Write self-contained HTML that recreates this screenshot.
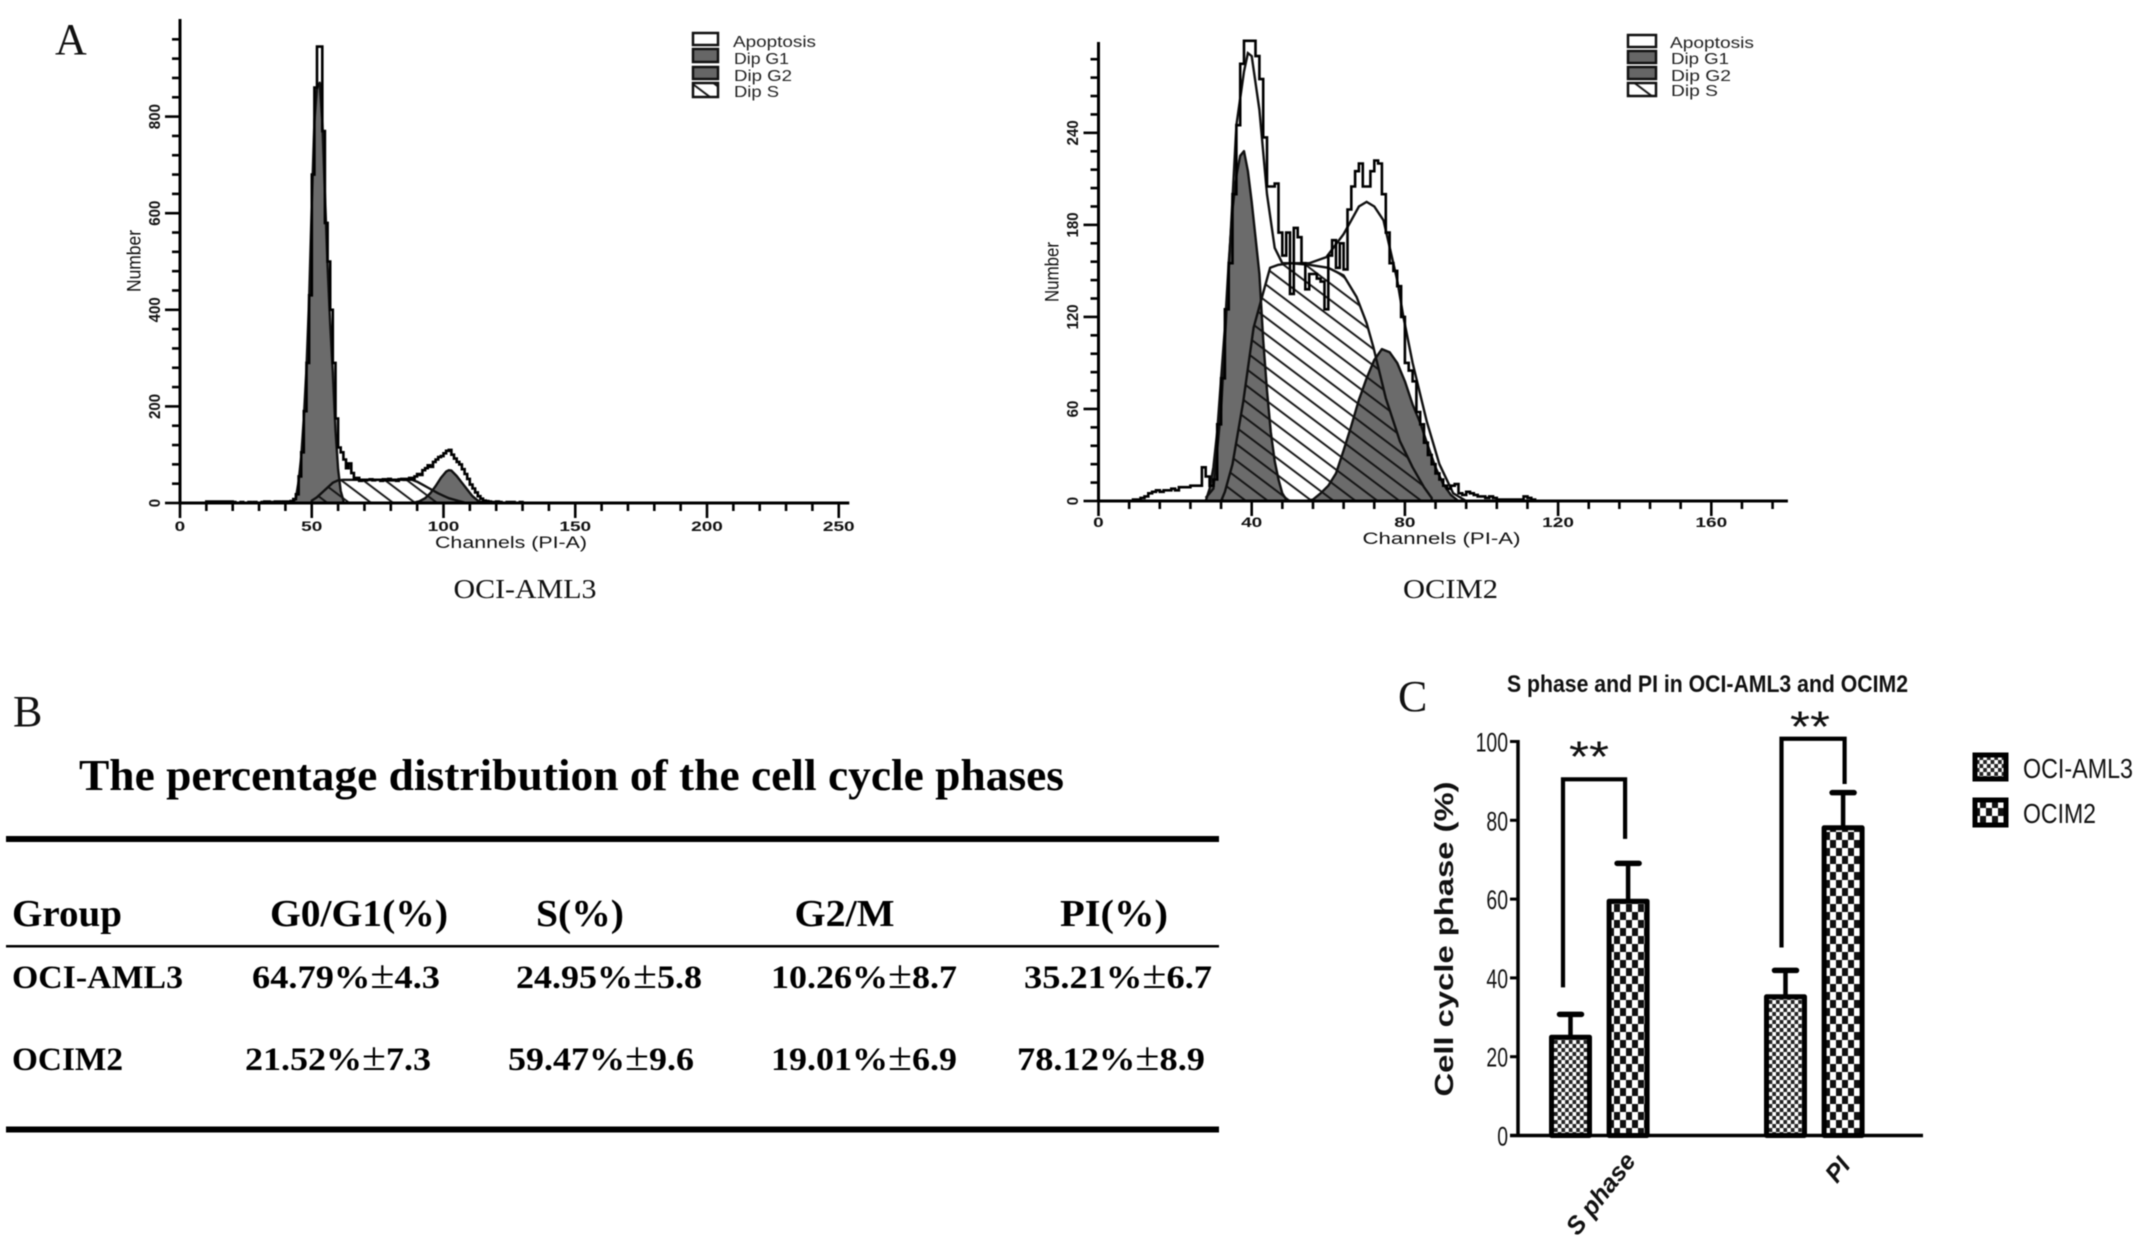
<!DOCTYPE html>
<html lang="en">
<head>
<meta charset="utf-8">
<title>Cell cycle analysis of OCI-AML3 and OCIM2</title>
<style>
html,body{margin:0;padding:0;background:#fff;width:2150px;height:1260px;overflow:hidden}
svg{display:block;filter:blur(0.55px)}
text{fill:#111}
.sans{font-family:"Liberation Sans",Arial,sans-serif}
.serif{font-family:"Liberation Serif","Times New Roman",serif}
.tb{font-family:"Liberation Serif","Times New Roman",serif;font-weight:bold;font-size:33px;fill:#000}
.tb tspan{font-size:40px;font-weight:normal}
.th{font-family:"Liberation Serif","Times New Roman",serif;font-weight:bold;font-size:38px;fill:#000}
.lg{font-family:"Liberation Sans",Arial,sans-serif;font-size:16px;fill:#222}
</style>
</head>
<body>
<svg id="figure" xmlns="http://www.w3.org/2000/svg" width="2150" height="1260" viewBox="0 0 2150 1260">
  <defs>
    <pattern id="hatch" patternUnits="userSpaceOnUse" width="13.2" height="13.2" patternTransform="rotate(37)">
      <line x1="0" y1="6.6" x2="13.2" y2="6.6" stroke="#111" stroke-width="1.9"/>
    </pattern>
    <pattern id="fine-check" patternUnits="userSpaceOnUse" width="7.4" height="8">
      <rect width="7.4" height="8" fill="#fff"/>
      <rect width="3.7" height="4" fill="#222"/>
      <rect x="3.7" y="4" width="3.7" height="4" fill="#222"/>
    </pattern>
    <pattern id="coarse-check" patternUnits="userSpaceOnUse" width="12" height="16">
      <rect width="12" height="16" fill="#fff"/>
      <rect width="6" height="8" fill="#111"/>
      <rect x="6" y="8" width="6" height="8" fill="#111"/>
    </pattern>
  </defs>

  <rect width="2150" height="1260" fill="#fff"/>

  <text class="serif" x="55" y="54" font-size="44">A</text>
  <text class="serif" x="13" y="726" font-size="44">B</text>
  <text class="serif" x="1398" y="711" font-size="44">C</text>

  <g id="hist-a">
    <text class="sans" transform="rotate(-90 140.5 261)" x="140.5" y="261" text-anchor="middle" font-size="19" textLength="62" lengthAdjust="spacingAndGlyphs">Number</text>
    <text class="sans" x="435" y="548" font-size="17" textLength="152" lengthAdjust="spacingAndGlyphs">Channels (PI-A)</text>
    <text class="serif" x="453.5" y="598" font-size="27" textLength="143" lengthAdjust="spacingAndGlyphs">OCI-AML3</text>
    <g>
      <rect x="693" y="33" width="25" height="12" fill="#fff" stroke="#111" stroke-width="2.5"/>
      <rect x="693" y="49" width="25" height="13" fill="#666" stroke="#111" stroke-width="2.5"/>
      <rect x="693" y="67" width="25" height="12" fill="#666" stroke="#111" stroke-width="2.5"/>
      <rect x="693" y="83" width="25" height="14" fill="url(#hatch)" stroke="#111" stroke-width="2.5"/>
      <text class="lg" x="733" y="47" textLength="83" lengthAdjust="spacingAndGlyphs">Apoptosis</text>
      <text class="lg" x="734" y="64" textLength="55" lengthAdjust="spacingAndGlyphs">Dip G1</text>
      <text class="lg" x="734" y="81" textLength="58" lengthAdjust="spacingAndGlyphs">Dip G2</text>
      <text class="lg" x="734" y="97" textLength="45" lengthAdjust="spacingAndGlyphs">Dip S</text>
    </g>
  </g>

  <g id="hist-b">
    <text class="sans" transform="rotate(-90 1058.5 272)" x="1058.5" y="272" text-anchor="middle" font-size="19" textLength="60" lengthAdjust="spacingAndGlyphs">Number</text>
    <text class="sans" x="1362.5" y="544" font-size="17" textLength="158" lengthAdjust="spacingAndGlyphs">Channels (PI-A)</text>
    <text class="serif" x="1403" y="598" font-size="27" textLength="95" lengthAdjust="spacingAndGlyphs">OCIM2</text>
    <g>
      <rect x="1628" y="35" width="28" height="12" fill="#fff" stroke="#111" stroke-width="2.5"/>
      <rect x="1628" y="51" width="28" height="12" fill="#666" stroke="#111" stroke-width="2.5"/>
      <rect x="1628" y="67" width="28" height="12" fill="#666" stroke="#111" stroke-width="2.5"/>
      <rect x="1628" y="83" width="28" height="13" fill="url(#hatch)" stroke="#111" stroke-width="2.5"/>
      <text class="lg" x="1670" y="48" textLength="84" lengthAdjust="spacingAndGlyphs">Apoptosis</text>
      <text class="lg" x="1671" y="64" textLength="58" lengthAdjust="spacingAndGlyphs">Dip G1</text>
      <text class="lg" x="1671" y="81" textLength="60" lengthAdjust="spacingAndGlyphs">Dip G2</text>
      <text class="lg" x="1671" y="96" textLength="47" lengthAdjust="spacingAndGlyphs">Dip S</text>
    </g>
  </g>

  <g>
    <text class="serif" x="79" y="790" font-size="44" font-weight="bold" textLength="985" lengthAdjust="spacingAndGlyphs" style="fill:#000">The percentage distribution of the cell cycle phases</text>
    <rect x="6" y="836" width="1213" height="6" fill="#000"/>
    <rect x="6" y="945" width="1213" height="2.5" fill="#000"/>
    <rect x="6" y="1126.5" width="1213" height="6" fill="#000"/>

    <text class="th" x="12" y="926" textLength="110" lengthAdjust="spacingAndGlyphs">Group</text>
    <text class="th" x="270" y="926" textLength="178" lengthAdjust="spacingAndGlyphs">G0/G1(%)</text>
    <text class="th" x="536" y="926" textLength="88" lengthAdjust="spacingAndGlyphs">S(%)</text>
    <text class="th" x="794.5" y="926" textLength="100" lengthAdjust="spacingAndGlyphs">G2/M</text>
    <text class="th" x="1060" y="926" textLength="108" lengthAdjust="spacingAndGlyphs">PI(%)</text>

    <text class="tb" x="12" y="988" textLength="171" lengthAdjust="spacingAndGlyphs">OCI-AML3</text>
    <text class="tb" x="252" y="988" textLength="188" lengthAdjust="spacingAndGlyphs">64.79%<tspan>±</tspan>4.3</text>
    <text class="tb" x="516" y="988" textLength="186" lengthAdjust="spacingAndGlyphs">24.95%<tspan>±</tspan>5.8</text>
    <text class="tb" x="771" y="988" textLength="186" lengthAdjust="spacingAndGlyphs">10.26%<tspan>±</tspan>8.7</text>
    <text class="tb" x="1024" y="988" textLength="188" lengthAdjust="spacingAndGlyphs">35.21%<tspan>±</tspan>6.7</text>

    <text class="tb" x="12" y="1070" textLength="111" lengthAdjust="spacingAndGlyphs">OCIM2</text>
    <text class="tb" x="245" y="1070" textLength="186" lengthAdjust="spacingAndGlyphs">21.52%<tspan>±</tspan>7.3</text>
    <text class="tb" x="508" y="1070" textLength="186" lengthAdjust="spacingAndGlyphs">59.47%<tspan>±</tspan>9.6</text>
    <text class="tb" x="771" y="1070" textLength="186" lengthAdjust="spacingAndGlyphs">19.01%<tspan>±</tspan>6.9</text>
    <text class="tb" x="1017" y="1070" textLength="188" lengthAdjust="spacingAndGlyphs">78.12%<tspan>±</tspan>8.9</text>
  </g>

  <g id="bar-chart">
    <text class="sans" x="1507" y="692" font-size="24" font-weight="bold" textLength="401" lengthAdjust="spacingAndGlyphs">S phase and PI in OCI-AML3 and OCIM2</text>
    <text class="sans" transform="rotate(-90 1453 939)" x="1453" y="939" text-anchor="middle" font-size="26" font-weight="bold" textLength="315" lengthAdjust="spacingAndGlyphs">Cell cycle phase (%)</text>
    <g>
      <rect x="1975" y="755" width="31" height="24" fill="url(#fine-check)" stroke="#000" stroke-width="5"/>
      <rect x="1975" y="800" width="31" height="25" fill="url(#coarse-check)" stroke="#000" stroke-width="5"/>
      <text class="sans" x="2023" y="778" font-size="28" textLength="110" lengthAdjust="spacingAndGlyphs">OCI-AML3</text>
      <text class="sans" x="2023" y="823" font-size="28" textLength="73" lengthAdjust="spacingAndGlyphs">OCIM2</text>
    </g>
  </g>
</svg>

<script>
/* ---------- Panel A, OCI-AML3 histogram values ---------- */
const a1XLabels = [0, 50, 100, 150, 200, 250];
const a1YLabels = [0, 200, 400, 600, 800];
const a1TotalChannels = [10,11,12,13,14,15,16,17,18,19,20,21,22,23,24,25,26,27,28,29,30,31,32,33,34,35,36,37,38,39,40,41,42,43,44,45,46,47,48,49,50,51,52,53,54,55,56,57,58,59,60,61,62,63,64,65,66,67,68,69,70,71,72,73,74,75,76,77,78,79,80,81,82,83,84,85,86,87,88,89,90,91,92,93,94,95,96,97,98,99,100,101,102,103,104,105,106,107,108,109,110,111,112,113,114,115,116,117,118,119,120,121,122,123,124,125,126,127,128,129,130];
const a1TotalCounts = [3,3,3,3,3,3,3,3,3,3,2,0,0,2,0,0,2,0,2,0,0,2,3,3,0,2,3,3,2,3,2,3,4,8,18,55,105,190,290,430,680,860,945,945,770,580,500,400,290,175,115,105,90,72,82,62,50,52,46,48,47,48,49,47,48,48,46,49,47,50,47,48,46,49,50,48,50,52,50,55,60,58,68,72,78,75,85,90,95,97,103,108,110,100,92,85,80,70,60,50,38,30,22,14,9,5,4,3,2,2,3,2,0,0,2,0,2,0,0,2,0];
const a1G1Channels = [43,44,45,46,47,48,49,50,51,52,53,54,55,56,57,58,59,60,61,62];
const a1G1Counts = [2,10,45,95,175,280,420,620,790,860,870,790,640,490,370,270,150,70,25,5];
const a1G2Channels = [89,91,93,95,97,99,101,102,103,105,107,109,111,113,115];
const a1G2Counts = [1,4,10,20,35,52,65,68,67,56,42,28,14,5,1];
const a1SChannels = [50,52,54,56,58,60,62,70,80,88,90,92,94,96,98,100,102,104,106,108];
const a1SCounts = [5,12,22,32,42,47,48,48,48,48,44,38,32,26,20,15,10,7,4,1];

/* ---------- Panel A, OCIM2 histogram values ---------- */
const a2XLabels = [0, 40, 80, 120, 160];
const a2YLabels = [0, 60, 120, 180, 240];
const a2TotalChannels = [8,9,10,11,12,13,14,15,16,17,18,19,20,21,22,23,24,25,26,27,28,29,30,31,32,33,34,35,36,37,38,39,40,41,42,43,44,45,46,47,48,49,50,51,52,53,54,55,56,57,58,59,60,61,62,63,64,65,66,67,68,69,70,71,72,73,74,75,76,77,78,79,80,81,82,83,84,85,86,87,88,89,90,91,92,93,94,95,96,97,98,99,100,101,102,103,104,105,106,107,108,109,110,111,112,113];
const a2TotalCounts = [0,1,1,2,3,5,6,7,6,7,7,8,7,9,9,9,10,10,10,22,16,10,14,50,80,125,155,200,245,285,300,300,300,290,275,237,205,205,207,175,160,175,135,178,172,155,138,148,148,145,143,125,160,170,152,168,151,190,205,215,220,205,205,215,222,220,200,175,155,150,140,120,90,85,78,58,50,38,30,24,18,14,10,8,10,11,5,4,6,5,4,3,3,2,3,2,1,1,1,1,1,1,1,3,2,1];
const a2FitChannels = [28,30,32,34,36,38,39,40,42,44,46,48,51,55,59.5,64,66,68,70,72,74.4,78,79.6,82,85.7,89,92.6,96];
const a2FitCounts = [2,8,60,150,245,280,292,290,255,200,165,155,155,155,159,174,183,192,195,192,183,144,120,90,52,24,5,0];
const a2G1Channels = [28,29,30,31,32,33,34,35,36,37,38,39,40,41,42,43,44,45,46,47,48,49];
const a2G1Counts = [0,8,22,45,80,113,155,190,212,225,228,215,195,172,148,105,72,45,26,14,5,1];
const a2G2Channels = [54,56,58,60,62,64,66,68,70,72,74,76,78,80,82,84,86,88,90,92,94];
const a2G2Counts = [0,1,5,10,18,33,49,66,80,92,99,97,90,78,63,51,36,22,11,4,0];
const a2SChannels = [32,33,35,37.8,40.5,42.7,44.8,47,50,55,60,64,67.4,70,71.8,75,78.7,82,85,87];
const a2SCounts = [0,6,24,65,113,133,152,154,155,154,152,147,133,116,100,67,39,22,9,2];

/* ---------- Panel C, bar chart values ---------- */
const barCategories = ["S phase", "PI"];
const barYLabels = [0, 20, 40, 60, 80, 100];
const amlValues = [24.95, 35.21];
const amlErrors = [5.8, 6.7];
const ocimValues = [59.47, 78.12];
const ocimErrors = [9.6, 8.9];
const bracketTops = [90.4, 100.7];
const bracketLeftEnds = [37.6, 47.7];
const bracketRightEnds = [75.3, 89.2];
const bracketStars = ["**", "**"];

const NS = "http://www.w3.org/2000/svg";
function make(tag, attrs, parent) {
  const el = document.createElementNS(NS, tag);
  for (const k in attrs) el.setAttribute(k, attrs[k]);
  parent.appendChild(el);
  return el;
}

/* axis functions */
const a1X = c => 180 + 2.635 * c;
const a1Y = v => 503 - 0.483 * v;
const a2X = c => 1098.5 + 3.83 * c;
const a2Y = v => 501 - 1.534 * v;
const barY = v => 1135.5 - 3.94 * v;
const barGroupX = i => 1599.3 + 215 * i;

function areaPath(channels, counts, xf, yf) {
  let d = "M" + xf(channels[0]) + " " + yf(0);
  channels.forEach((c, i) => { d += " L" + xf(c).toFixed(1) + " " + yf(counts[i]).toFixed(1); });
  d += " L" + xf(channels[channels.length - 1]) + " " + yf(0) + " Z";
  return d;
}
function stepPath(channels, counts, xf, yf) {
  let d = "M" + xf(channels[0]).toFixed(1) + " " + yf(0).toFixed(1);
  channels.forEach((c, i) => {
    d += " L" + xf(c).toFixed(1) + " " + yf(counts[i]).toFixed(1);
    d += " L" + xf(c + 1).toFixed(1) + " " + yf(counts[i]).toFixed(1);
  });
  d += " L" + xf(channels[channels.length - 1] + 1).toFixed(1) + " " + yf(0).toFixed(1);
  return d;
}
function linePath(channels, counts, xf, yf) {
  return channels.map((c, i) => (i ? "L" : "M") + xf(c).toFixed(1) + " " + yf(counts[i]).toFixed(1)).join(" ");
}

function drawHistAxes(group, cfg) {
  const xf = cfg.x, yf = cfg.y;
  const yAxis = make("line", {x1: xf(0), x2: xf(0), y1: cfg.axisTop, y2: yf(0) + 1, stroke: "#000", "stroke-width": 3}, group);
  
  
  const xAxis = make("line", {x1: xf(0) - 1, x2: xf(cfg.xMax), y1: yf(0), y2: yf(0), stroke: "#000", "stroke-width": 3}, group);
  
  
  for (let c = 0; c <= cfg.xMax; c += cfg.xMinor) {
    const major = cfg.xLabels.includes(c);
    const t = make("line", {x1: xf(c), x2: xf(c), y1: yf(0), y2: yf(0) + (major ? 15 : 8), stroke: "#000", "stroke-width": 2.6}, group);
    
    
  }
  for (let v = 0; v <= cfg.yMax; v += cfg.yMinor) {
    const major = cfg.yLabels.includes(v);
    const t = make("line", {x1: xf(0) - (major ? 15 : 8), x2: xf(0), y1: yf(v), y2: yf(v), stroke: "#000", "stroke-width": 2.6}, group);
    
    
  }
  cfg.xLabels.forEach(c => {
    const s = String(c);
    const t = make("text", {x: xf(c), y: cfg.xLabelY, "text-anchor": "middle", "font-size": 14, "font-weight": "bold", fill: "#333", class: "sans", textLength: s.length * 10.6, lengthAdjust: "spacingAndGlyphs"}, group);
    
    
    t.textContent = s;
  });
  cfg.yLabels.forEach(v => {
    const s = String(v);
    const t = make("text", {x: cfg.yLabelX, y: yf(v), "text-anchor": "middle", "font-size": 16, "font-weight": "bold", class: "sans", textLength: s.length * 8.4, lengthAdjust: "spacingAndGlyphs", transform: "rotate(-90 " + cfg.yLabelX + " " + yf(v) + ")"}, group);
    
    
    t.textContent = s;
  });
}

function drawPhase(group, channels, counts, xf, yf, fill, name) {
  const p = make("path", {d: areaPath(channels, counts, xf, yf), fill: fill, stroke: "#111", "stroke-width": 2.4, "stroke-linejoin": "round"}, group);
  
  
}

/* Panel A: OCI-AML3 */
(function () {
  const g = document.getElementById("hist-a");
  drawPhase(g, a1G1Channels, a1G1Counts, a1X, a1Y, "#6b6b6b", "dip-g1-peak");
  drawPhase(g, a1G2Channels, a1G2Counts, a1X, a1Y, "#6b6b6b", "dip-g2-peak");
  drawPhase(g, a1SChannels, a1SCounts, a1X, a1Y, "url(#hatch)", "dip-s-region");
  const total = make("path", {d: stepPath(a1TotalChannels, a1TotalCounts, a1X, a1Y), fill: "none", stroke: "#000", "stroke-width": 2.6, "stroke-linejoin": "miter"}, g);
  
  
  drawHistAxes(g, {x: a1X, y: a1Y, axisTop: 19, xMax: 254, xMinor: 10, yMax: 960, yMinor: 40,
    xLabels: a1XLabels, yLabels: a1YLabels, xLabelY: 531, yLabelX: 160});
})();

/* Panel A: OCIM2 */
(function () {
  const g = document.getElementById("hist-b");
  drawPhase(g, a2G1Channels, a2G1Counts, a2X, a2Y, "#6b6b6b", "dip-g1-peak");
  drawPhase(g, a2G2Channels, a2G2Counts, a2X, a2Y, "#6b6b6b", "dip-g2-peak");
  drawPhase(g, a2SChannels, a2SCounts, a2X, a2Y, "url(#hatch)", "dip-s-region");
  const fit = make("path", {d: linePath(a2FitChannels, a2FitCounts, a2X, a2Y), fill: "none", stroke: "#111", "stroke-width": 2.4}, g);
  
  
  const total = make("path", {d: stepPath(a2TotalChannels, a2TotalCounts, a2X, a2Y), fill: "none", stroke: "#000", "stroke-width": 2.6, "stroke-linejoin": "miter"}, g);
  
  
  drawHistAxes(g, {x: a2X, y: a2Y, axisTop: 42, xMax: 180, xMinor: 8, yMax: 288, yMinor: 12,
    xLabels: a2XLabels, yLabels: a2YLabels, xLabelY: 527, yLabelX: 1078});
})();

/* Panel C: bars */
(function () {
  const g = document.getElementById("bar-chart");
  const BAR_W = 38, OFFSET = 28.8, CAP = 11;
  function drawBar(cx, value, err, fill, name) {
    const stem = make("line", {x1: cx, x2: cx, y1: barY(value), y2: barY(value + err), stroke: "#000", "stroke-width": 4.5}, g);
    
    
    const cap = make("line", {x1: cx - CAP, x2: cx + CAP, y1: barY(value + err), y2: barY(value + err), stroke: "#000", "stroke-width": 5.5, "stroke-linecap": "round"}, g);
    
    
    const rect = make("rect", {x: cx - BAR_W / 2, y: barY(value), width: BAR_W, height: barY(0) - barY(value), fill: fill, stroke: "#000", "stroke-width": 5, "stroke-linejoin": "round"}, g);
    
    
  }
  barCategories.forEach((cat, i) => {
    const cx = barGroupX(i);
    const left = cx - OFFSET, right = cx + OFFSET;
    drawBar(left, amlValues[i], amlErrors[i], "url(#fine-check)", "bar-oci-aml3-" + i);
    drawBar(right, ocimValues[i], ocimErrors[i], "url(#coarse-check)", "bar-ocim2-" + i);
    const bx1 = left - (i === 0 ? 7.5 : 4), bx2 = right + (i === 0 ? -3 : 1.5);
    const br = make("path", {d: "M" + bx1 + " " + barY(bracketLeftEnds[i]) + " V" + barY(bracketTops[i]) + " H" + bx2 + " V" + barY(bracketRightEnds[i]), fill: "none", stroke: "#000", "stroke-width": 4.2}, g);
    
    
    const sx = (bx1 + bx2) / 2 - (i === 0 ? 5 : 3);
    const sy = barY(bracketTops[i]) - (i === 0 ? 8 : -3);
    const st = make("text", {x: sx, y: sy, "text-anchor": "middle", "font-size": 44, class: "sans", textLength: 40, lengthAdjust: "spacingAndGlyphs"}, g);
    
    
    st.textContent = bracketStars[i];
  });

  const yAxis = make("line", {x1: 1518, x2: 1518, y1: barY(100) - 1.5, y2: barY(0), stroke: "#000", "stroke-width": 3.5}, g);
  
  
  const xAxis = make("line", {x1: 1510, x2: 1923, y1: barY(0), y2: barY(0), stroke: "#000", "stroke-width": 3.5}, g);
  
  
  barYLabels.forEach(v => {
    const s = String(v);
    const t = make("line", {x1: 1510, x2: 1518, y1: barY(v), y2: barY(v), stroke: "#000", "stroke-width": 3}, g);
    
    
    const l = make("text", {x: 1508, y: barY(v) + 10, "text-anchor": "end", "font-size": 27, class: "sans", textLength: s.length * 10.8, lengthAdjust: "spacingAndGlyphs"}, g);
    
    
    l.textContent = s;
  });
  barCategories.forEach((cat, i) => {
    const cx = barGroupX(i) + (i === 0 ? 8 : 30);
    const cy = i === 0 ? 1199 : 1175;
    const l = make("text", {x: cx, y: cy, "text-anchor": "middle", "font-size": 25, "font-style": "italic", "font-weight": "bold", class: "sans", transform: "rotate(-52 " + cx + " " + cy + ")"}, g);
    
    
    l.textContent = cat;
  });
})();
</script>
</body>
</html>
